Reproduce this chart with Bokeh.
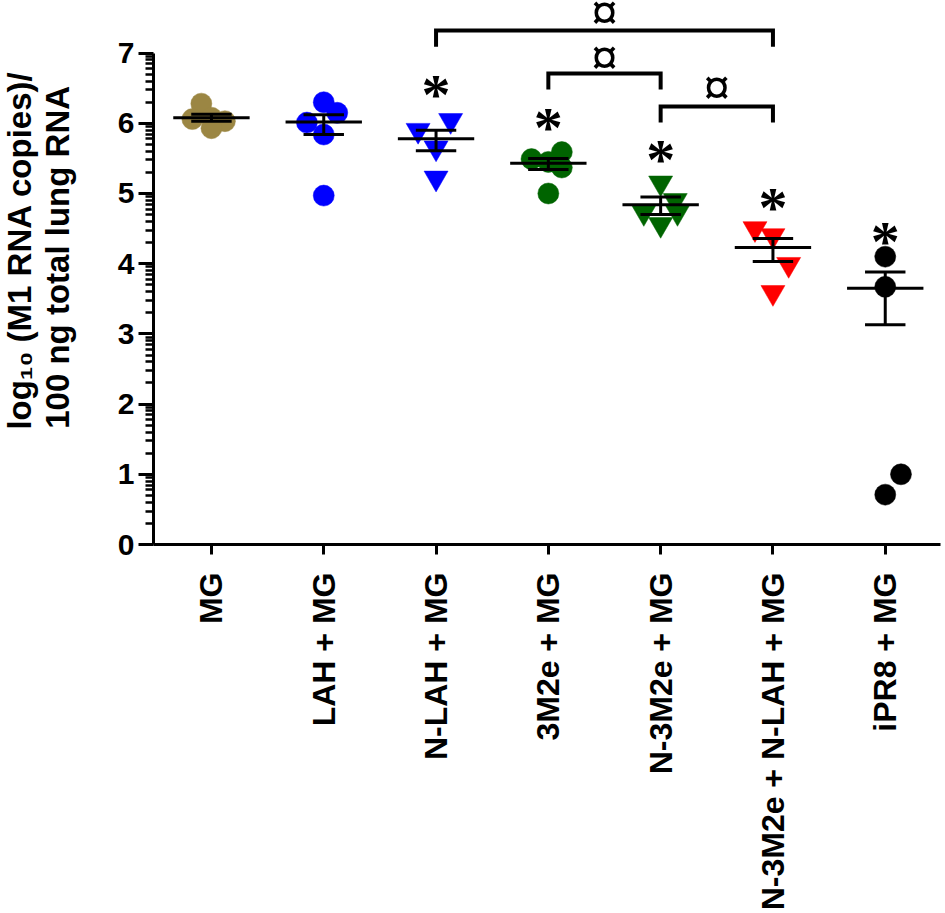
import math
from bokeh.plotting import figure
from bokeh.layouts import row
from bokeh.models import Range1d, FixedTicker, ColumnDataSource, LabelSet
from bokeh.core.properties import value
from bokeh.embed import file_html
from bokeh.resources import INLINE

# ---------------- data ----------------
categories = ["MG", "LAH + MG", "N-LAH + MG", "3M2e + MG", "N-3M2e + MG",
              "N-3M2e + N-LAH + MG", "iPR8 + MG"]
colors = ["#9b8643", "#0000ff", "#0000ff", "#006400", "#006400", "#ff0000", "#000000"]
markers = ["circle", "circle", "inverted_triangle", "circle", "inverted_triangle",
           "inverted_triangle", "circle"]

vals_mg = [6.28, 6.06, 6.08, 6.03, 5.93]
jit_mg = [-0.09, -0.17, 0.0, 0.12, 0.0]
vals_lah = [6.30, 6.15, 6.01, 5.84, 4.97]
jit_lah = [0.0, 0.12, -0.15, 0.0, 0.0]
vals_nlah = [6.04, 5.90, 5.65, 5.22]
jit_nlah = [0.13, -0.16, 0.0, 0.0]
vals_3m2e = [5.59, 5.49, 5.45, 5.37, 5.00]
jit_3m2e = [0.12, -0.15, 0.0, 0.12, 0.0]
vals_n3m2e = [5.15, 4.90, 4.73, 4.73, 4.56]
jit_n3m2e = [0.0, 0.13, -0.15, 0.15, 0.0]
vals_combo = [4.50, 4.40, 3.99, 3.59]
jit_combo = [-0.16, 0.0, 0.14, 0.0]
vals_ipr8 = [4.10, 3.67, 1.00, 0.71]
jit_ipr8 = [0.0, 0.0, 0.14, 0.0]

group_vals = [vals_mg, vals_lah, vals_nlah, vals_3m2e, vals_n3m2e, vals_combo, vals_ipr8]
group_jit = [jit_mg, jit_lah, jit_nlah, jit_3m2e, jit_n3m2e, jit_combo, jit_ipr8]

centers = [6.08, 6.02, 5.78, 5.43, 4.84, 4.23, 3.65]
err_hi = [6.13, 6.12, 5.90, 5.50, 4.95, 4.36, 3.88]
err_lo = [6.03, 5.84, 5.61, 5.34, 4.70, 4.03, 3.13]

star_groups = [2, 3, 4, 5, 6]
star_y = [6.50, 6.02, 5.57, 4.88, 4.40]

bracket_left = [2, 3, 4]
bracket_right = [5, 4, 5]
bracket_top = [7.32, 6.71, 6.24]
bracket_leg = [7.09, 6.48, 6.01]
bracket_mark_y = [7.58, 6.94, 6.51]

y_major = [0, 1, 2, 3, 4, 5, 6, 7]
y_title_lines = ["log₁₀ (M1 RNA copies)/", "100 ng total lung RNA"]

# ---------------- main figure ----------------
FONT = "Liberation Sans"
TITLE_W = 80
yr = Range1d(0, 7.749)
p = figure(width=945 - TITLE_W, height=913, output_backend="svg", toolbar_location=None,
           x_range=Range1d(-0.516, 6.492), y_range=yr,
           min_border_left=153 - TITLE_W, min_border_right=5, min_border_top=0,
           min_border_bottom=369)
p.outline_line_color = None
p.xgrid.visible = False
p.ygrid.visible = False

# points
for i, (vals, jit) in enumerate(zip(group_vals, group_jit)):
    src = ColumnDataSource(dict(x=[i + j for j in jit], y=vals))
    size = 21 if markers[i] == "circle" else 24
    p.scatter("x", "y", source=src, marker=markers[i], size=size,
              fill_color=colors[i], line_color=colors[i], line_width=0.5)

# central lines and error bars
idx = list(range(len(categories)))
MW, CW = 0.34, 0.18
p.segment(x0=[i - MW for i in idx], x1=[i + MW for i in idx], y0=centers, y1=centers,
          line_color="black", line_width=3)
p.segment(x0=idx, x1=idx, y0=err_lo, y1=err_hi, line_color="black", line_width=3)
p.segment(x0=[i - CW for i in idx], x1=[i + CW for i in idx], y0=err_hi, y1=err_hi,
          line_color="black", line_width=3)
p.segment(x0=[i - CW for i in idx], x1=[i + CW for i in idx], y0=err_lo, y1=err_lo,
          line_color="black", line_width=3)

# brackets
p.multi_line(xs=[[l, l, r, r] for l, r in zip(bracket_left, bracket_right)],
             ys=[[b, t, t, b] for t, b in zip(bracket_top, bracket_leg)],
             line_color="black", line_width=4, line_join="miter")

# asterisks and ¤ marks
star_src = ColumnDataSource(dict(x=star_groups, y=star_y, t=["*"] * len(star_groups)))
p.add_layout(LabelSet(x="x", y="y", text="t", source=star_src, text_align="center",
                      text_baseline="middle", y_offset=-6, text_font=FONT,
                      text_font_style="bold", text_font_size="58px", text_color="black"))
mark_src = ColumnDataSource(dict(x=[(l + r) / 2 for l, r in zip(bracket_left, bracket_right)],
                                 y=bracket_mark_y, t=["¤"] * len(bracket_left)))
p.add_layout(LabelSet(x="x", y="y", text="t", source=mark_src, text_align="center",
                      text_baseline="middle", y_offset=0, text_font=FONT,
                      text_font_style="bold", text_font_size="52px", text_color="black"))

# y axis
ya = p.yaxis[0]
ya.ticker = FixedTicker(ticks=y_major,
                        minor_ticks=[k + math.log10(m) for k in range(7) for m in range(2, 10)])
ya.bounds = (0, 7)
ya.axis_line_width = 3
ya.major_tick_line_width = 3
ya.minor_tick_line_width = 2.5
ya.major_tick_out = 15
ya.major_tick_in = 0
ya.minor_tick_out = 8
ya.minor_tick_in = 0
ya.major_label_standoff = 4
ya.major_label_text_font = FONT
ya.major_label_text_font_style = "bold"
ya.major_label_text_font_size = "30px"
ya.major_label_text_color = "black"

# x axis
xa = p.xaxis[0]
xa.ticker = FixedTicker(ticks=idx)
xa.major_label_overrides = {i: c for i, c in enumerate(categories)}
xa.major_label_orientation = math.pi / 2
xa.axis_line_width = 3
xa.major_tick_line_width = 3
xa.major_tick_out = 10
xa.major_tick_in = 0
xa.minor_tick_line_color = None
xa.major_label_standoff = 18
xa.major_label_text_font = FONT
xa.major_label_text_font_style = "bold"
xa.major_label_text_font_size = "32px"
xa.major_label_text_color = "black"

# ---------------- y-axis title strip (shares the y scale of the main plot) ----------------
lp = figure(width=TITLE_W, height=913, output_backend="svg", toolbar_location=None,
            x_range=Range1d(0, TITLE_W), y_range=yr, x_axis_type=None, y_axis_type=None,
            min_border_left=0, min_border_right=0, min_border_top=0,
            min_border_bottom=369, outline_line_color=None)
lp.grid.visible = False
lp.text(x=[19, 57], y=[4.19, 4.09], text=y_title_lines, angle=math.pi / 2,
        text_align="center", text_baseline="middle", text_font=value(FONT),
        text_font_style="bold", text_font_size="33px", text_color="black")

open("out.html", "w").write(file_html(row(lp, p), INLINE))
